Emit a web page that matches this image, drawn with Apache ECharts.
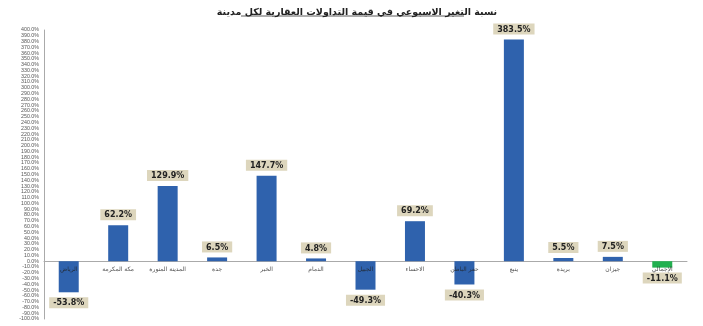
<!DOCTYPE html>
<html><head><meta charset="utf-8">
<script src="https://cdn.jsdelivr.net/npm/echarts@6/dist/echarts.min.js"></script>
<style>html,body{margin:0;padding:0;background:#fff}#c{width:703px;height:326px}</style>
</head><body><div id="c"></div>
<script>
const titleText = 'نسبة التغير الاسبوعي في قيمة التداولات العقارية لكل مدينة';
const categories = ['الرياض','مكة المكرمة','المدينة المنورة','جدة','الخبر','الدمام','الجبيل','الاحساء','حفر الباطن','ينبع','بريدة','جيزان','الإجمالي'];
const values = [-53.8, 62.2, 129.9, 6.5, 147.7, 4.8, -49.3, 69.2, -40.3, 383.5, 5.5, 7.5, -11.1];
const totalIndex = 12;
const yMin = -100, yMax = 400, yStep = 10;

const chart = echarts.init(document.getElementById('c'));
chart.setOption({
  animation: false,
  title: {
    text: titleText, left: 352, top: 3, textAlign: 'center',
    textStyle: {fontSize: 9.5, fontWeight: 'bold', color: '#222', fontFamily: 'DejaVu Sans'}
  },
  graphic: [{type: 'line', shape: {x1: 241, y1: 16, x2: 464, y2: 16}, style: {stroke: '#333', lineWidth: 0.8}}],
  grid: {left: 44, right: 16, top: 30, bottom: 7, containLabel: false},
  xAxis: {
    type: 'category', data: categories,
    axisLine: {onZero: true, lineStyle: {color: '#aaa', width: 1}},
    axisTick: {show: false},
    axisLabel: {show: false}
  },
  yAxis: {
    type: 'value', min: yMin, max: yMax, interval: yStep,
    axisLine: {show: true, lineStyle: {color: '#aaa'}},
    axisTick: {show: false},
    splitLine: {show: false},
    axisLabel: {fontSize: 5.3, lineHeight: 4, color: '#555', margin: 5, showMinLabel: true, showMaxLabel: true,
      hideOverlap: false, formatter: v => v.toFixed(1) + '%'}
  },
  series: [{
    type: 'bar', barWidth: 20,
    data: values.map((v, i) => ({
      value: v,
      itemStyle: {color: i === totalIndex ? '#22b050' : '#2f62ad'},
      label: {position: v >= 0 ? 'top' : 'bottom'}
    })),
    label: {
      show: true, distance: 5, fontSize: 8, fontWeight: 'bold', color: '#222',
      backgroundColor: '#ddd6bd', padding: [2, 4, 1, 4],
      fontFamily: 'DejaVu Sans',
      formatter: p => p.value.toFixed(1) + '%'
    }
  }, {
    type: 'scatter', symbolSize: 0, silent: true, z: 5,
    data: categories.map(c => [c, 0]),
    label: {show: true, position: 'bottom', distance: 5, fontSize: 6, color: '#222',
      fontFamily: 'DejaVu Sans', formatter: p => p.value[0]}
  }]
});
</script></body></html>
